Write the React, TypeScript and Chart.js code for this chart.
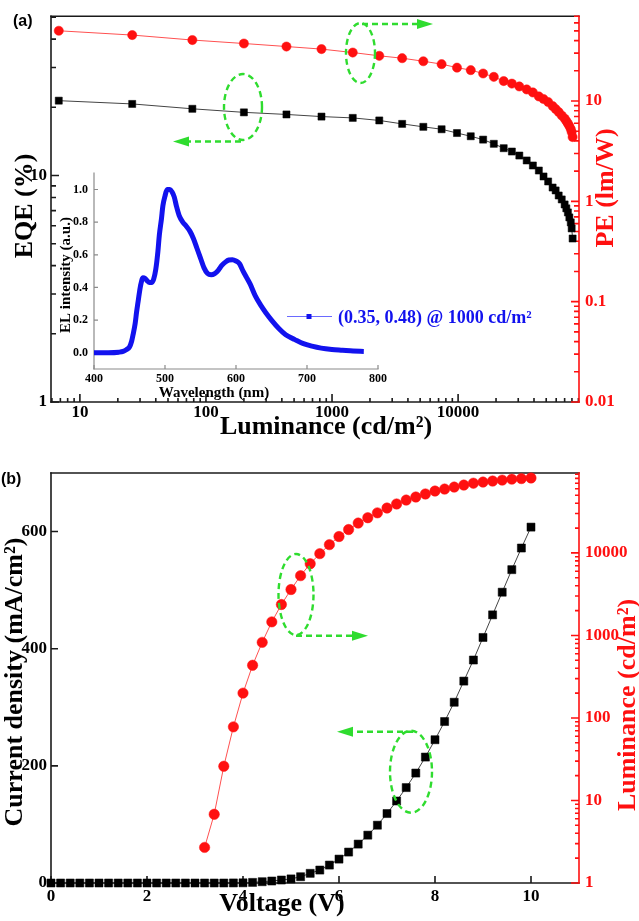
import React, { useEffect, useRef } from 'react';
import { Chart, registerables } from 'chart.js';
Chart.register(...registerables);

// ---------- Panel (b): J-V-L ----------
const voltage = [0, 0.2, 0.4, 0.6, 0.8, 1.0, 1.2, 1.4, 1.6, 1.8, 2.0, 2.2, 2.4, 2.6, 2.8, 3.0, 3.2, 3.4, 3.6, 3.8, 4.0, 4.2, 4.4, 4.6, 4.8, 5.0, 5.2, 5.4, 5.6, 5.8, 6.0, 6.2, 6.4, 6.6, 6.8, 7.0, 7.2, 7.4, 7.6, 7.8, 8.0, 8.2, 8.4, 8.6, 8.8, 9.0, 9.2, 9.4, 9.6, 9.8, 10.0];
const currentDensity = [0, 0, 0, 0, 0, 0, 0, 0, 0, 0, 0, 0, 0, 0, 0, 0, 0, 0, 0, 0.1, 0.3, 1.0, 2.2, 3.4, 5.1, 7.0, 10.7, 16.5, 22.1, 30.6, 40.8, 52.8, 66.4, 81.7, 98.7, 118.6, 140, 162.9, 187.7, 215, 244.6, 275.7, 308.6, 344.7, 380.7, 419.2, 457.8, 496.5, 535, 571.9, 607.6];
const lumVoltage = [3.2, 3.4, 3.6, 3.8, 4.0, 4.2, 4.4, 4.6, 4.8, 5.0, 5.2, 5.4, 5.6, 5.8, 6.0, 6.2, 6.4, 6.6, 6.8, 7.0, 7.2, 7.4, 7.6, 7.8, 8.0, 8.2, 8.4, 8.6, 8.8, 9.0, 9.2, 9.4, 9.6, 9.8, 10.0];
const luminance = [2.7, 6.8, 26, 78, 200, 435, 825, 1460, 2370, 3600, 5300, 7400, 9800, 12600, 15800, 19200, 23000, 26700, 30600, 35000, 39200, 43700, 47600, 51800, 56200, 59400, 62800, 66400, 70000, 72200, 74300, 76300, 78300, 79600, 81000];

// ---------- Panel (a): EQE / PE vs luminance (3.4 V .. 10 V) ----------
const eqe = [21.4, 20.7, 19.7, 19.0, 18.6, 18.2, 17.96, 17.5, 16.9, 16.4, 16.0, 15.4, 14.9, 14.4, 13.8, 13.2, 12.76, 12.25, 11.65, 11.07, 10.52, 9.9, 9.41, 8.85, 8.59, 8.16, 7.84, 7.45, 7.16, 6.87, 6.53, 6.21, 5.84, 5.27];
const pe = [50.1, 45.4, 40.5, 37.4, 34.9, 32.9, 30.4, 28.2, 26.7, 24.9, 23.3, 21.5, 20.3, 18.8, 17.4, 15.8, 14.9, 13.96, 13.03, 12.16, 11.1, 10.47, 9.77, 8.91, 8.32, 7.76, 7.16, 6.68, 6.31, 5.96, 5.62, 5.25, 4.9, 4.37];
const luminanceA = luminance.slice(1);

// ---------- Inset: EL spectrum ----------
const wavelength = [400, 420, 435, 441, 446, 450, 453, 455, 458, 460, 462, 464, 466, 469, 472, 475, 478, 481, 484, 487, 490, 492, 495, 497, 500, 503, 507, 510, 513, 516, 520, 525, 530, 535, 540, 545, 550, 555, 560, 565, 570, 575, 580, 585, 590, 595, 600, 605, 610, 615, 620, 627, 635, 642, 650, 660, 670, 683, 695, 707, 720, 735, 750, 765, 780];
const elIntensity = [0, 0, 0.003, 0.008, 0.02, 0.035, 0.07, 0.11, 0.18, 0.25, 0.31, 0.37, 0.42, 0.46, 0.455, 0.44, 0.43, 0.43, 0.45, 0.51, 0.62, 0.72, 0.82, 0.9, 0.96, 1.0, 1.0, 0.985, 0.955, 0.9, 0.84, 0.8, 0.775, 0.745, 0.7, 0.64, 0.58, 0.52, 0.485, 0.478, 0.485, 0.505, 0.535, 0.555, 0.568, 0.57, 0.562, 0.545, 0.5, 0.46, 0.42, 0.35, 0.29, 0.245, 0.2, 0.15, 0.11, 0.08, 0.055, 0.04, 0.028, 0.02, 0.015, 0.01, 0.008];

// ---------- Tick labels ----------
const lumTicksA = [10, 100, 1000, 10000];
const eqeTicks = [1, 10];
const peTicks = [0.01, 0.1, 1, 10];
const voltTicks = [0, 2, 4, 6, 8, 10];
const jTicks = [0, 200, 400, 600];
const lumTicksB = [1, 10, 100, 1000, 10000];
const wlTicks = [400, 500, 600, 700, 800];
const elTicks = [0, 0.2, 0.4, 0.6, 0.8, 1.0];

const SERIF = "'Liberation Serif', 'Times New Roman', serif";
const SANS = "'Liberation Sans', Arial, sans-serif";
const RED = '#ff1010';
const BLACK = '#1a1a1a';
const BLUE = '#1212ee';
const GREEN = '#2fdc2f';

const minorLog = (decades: number[]) => decades.flatMap((d) => [2, 3, 4, 5, 6, 7, 8, 9].map((m) => +(m * d).toPrecision(6)));

type Side = 'left' | 'right' | 'bottom';
interface AxisSpec { id: string; side: Side; color: string; major: number[]; minor: number[]; majorLen: number; minorLen: number; }

function axesPlugin(specs: AxisSpec[], topBorder: string | null, lw: number) {
  return {
    id: 'customAxes',
    beforeDatasetsDraw(chart: any) {
      const { ctx } = chart;
      const { left, right, top, bottom } = chart.chartArea;
      ctx.save();
      ctx.lineWidth = lw;
      ctx.lineCap = 'square';
      ctx.setLineDash([]);
      if (topBorder) {
        ctx.strokeStyle = topBorder;
        ctx.beginPath(); ctx.moveTo(left, top); ctx.lineTo(right, top); ctx.stroke();
      }
      for (const s of specs) {
        const sc = chart.scales[s.id];
        ctx.strokeStyle = s.color;
        ctx.beginPath();
        if (s.side === 'left') { ctx.moveTo(left, top); ctx.lineTo(left, bottom); }
        else if (s.side === 'right') { ctx.moveTo(right, top); ctx.lineTo(right, bottom); }
        else { ctx.moveTo(left, bottom); ctx.lineTo(right, bottom); }
        ctx.stroke();
        ctx.lineCap = 'butt';
        ctx.beginPath();
        const tick = (v: number, len: number) => {
          if (v < sc.min - 1e-12 || v > sc.max + 1e-12) return;
          const p = sc.getPixelForValue(v);
          if (s.side === 'left') { ctx.moveTo(left, p); ctx.lineTo(left + len, p); }
          else if (s.side === 'right') { ctx.moveTo(right, p); ctx.lineTo(right - len, p); }
          else { ctx.moveTo(p, bottom); ctx.lineTo(p, bottom - len); }
        };
        s.major.forEach((v) => tick(v, s.majorLen));
        s.minor.forEach((v) => tick(v, s.minorLen));
        ctx.stroke();
        ctx.lineCap = 'square';
      }
      ctx.restore();
    },
  };
}

function rotText(ctx: CanvasRenderingContext2D, text: string, x: number, y: number, font: string, color: string) {
  ctx.save();
  ctx.translate(x, y);
  ctx.rotate(-Math.PI / 2);
  ctx.font = font;
  ctx.fillStyle = color;
  ctx.textAlign = 'center';
  ctx.textBaseline = 'alphabetic';
  ctx.fillText(text, 0, 0);
  ctx.restore();
}

function hText(ctx: CanvasRenderingContext2D, text: string, x: number, y: number, font: string, color: string, align: CanvasTextAlign = 'center', base: CanvasTextBaseline = 'alphabetic') {
  ctx.save();
  ctx.font = font;
  ctx.fillStyle = color;
  ctx.textAlign = align;
  ctx.textBaseline = base;
  ctx.fillText(text, x, y);
  ctx.restore();
}

function greenLoop(ctx: CanvasRenderingContext2D, cx: number, cy: number, rx: number, ry: number) {
  ctx.save();
  ctx.strokeStyle = GREEN;
  ctx.lineWidth = 2.4;
  ctx.setLineDash([6, 4]);
  ctx.beginPath();
  ctx.ellipse(cx, cy, rx, ry, 0, 0, Math.PI * 2);
  ctx.stroke();
  ctx.restore();
}

function greenArrow(ctx: CanvasRenderingContext2D, x1: number, y: number, x2: number) {
  const dir = Math.sign(x2 - x1);
  const head = 16;
  ctx.save();
  ctx.strokeStyle = GREEN;
  ctx.fillStyle = GREEN;
  ctx.lineWidth = 2.4;
  ctx.setLineDash([6, 4]);
  ctx.beginPath();
  ctx.moveTo(x1, y);
  ctx.lineTo(x2 - dir * head, y);
  ctx.stroke();
  ctx.setLineDash([]);
  ctx.beginPath();
  ctx.moveTo(x2, y);
  ctx.lineTo(x2 - dir * head, y - 5);
  ctx.lineTo(x2 - dir * head, y + 5);
  ctx.closePath();
  ctx.fill();
  ctx.restore();
}

const tickFont = { family: SERIF, size: 17, weight: 'bold' as const };
const insetFont = { family: SERIF, size: 12, weight: 'bold' as const };
const noGrid = { display: false, drawTicks: false };
const setTicks = (vals: number[]) => (axis: any) => { axis.ticks = vals.map((v) => ({ value: v })); };
const fitW = (w: number) => (axis: any) => { axis.width = w; };
const fitH = (h: number) => (axis: any) => { axis.height = h; };

export default function App() {
  const refA = useRef<HTMLCanvasElement>(null);
  const refB = useRef<HTMLCanvasElement>(null);
  const refI = useRef<HTMLCanvasElement>(null);

  useEffect(() => {
    const common = { responsive: false, animation: false as const, devicePixelRatio: 1, events: [] as any[] };
    const noPlugins = { legend: { display: false }, tooltip: { enabled: false }, title: { display: false } };

    // ---------------- Panel (a) ----------------
    const chartA = new Chart(refA.current!, {
      type: 'line',
      data: {
        datasets: [
          {
            label: 'EQE',
            data: luminanceA.map((l, i) => ({ x: l, y: eqe[i] })),
            yAxisID: 'yL',
            borderColor: '#444',
            borderWidth: 1,
            pointStyle: 'rect',
            pointRadius: 5,
            pointBackgroundColor: '#000',
            pointBorderColor: '#000',
            pointBorderWidth: 0.5,
            clip: false as any,
          },
          {
            label: 'PE',
            data: luminanceA.map((l, i) => ({ x: l, y: pe[i] })),
            yAxisID: 'yR',
            borderColor: '#ff5050',
            borderWidth: 1,
            pointStyle: 'circle',
            pointRadius: 4.6,
            pointBackgroundColor: RED,
            pointBorderColor: RED,
            pointBorderWidth: 0.5,
            clip: false as any,
          },
        ],
      },
      options: {
        ...common,
        layout: { padding: { top: 15, left: 0, right: 0, bottom: 0 } },
        plugins: noPlugins as any,
        scales: {
          x: {
            type: 'logarithmic', position: 'bottom', min: 5.9, max: 91000,
            grid: noGrid, border: { display: false },
            ticks: { font: tickFont, color: '#000', padding: 0, autoSkip: false, maxRotation: 0, callback: (v: any) => String(v) },
            afterBuildTicks: setTicks(lumTicksA), afterFit: fitH(38),
          },
          yL: {
            type: 'logarithmic', position: 'left', min: 1, max: 50.5,
            grid: noGrid, border: { display: false },
            ticks: { font: tickFont, color: '#000', padding: 4, autoSkip: false, callback: (v: any) => String(v) },
            afterBuildTicks: setTicks(eqeTicks), afterFit: fitW(51),
          },
          yR: {
            type: 'logarithmic', position: 'right', min: 0.01, max: 70,
            grid: noGrid, border: { display: false },
            ticks: { font: tickFont, color: RED, padding: 6, autoSkip: false, callback: (v: any) => String(v) },
            afterBuildTicks: setTicks(peTicks), afterFit: fitW(60),
          },
        } as any,
      },
      plugins: [
        axesPlugin([
          { id: 'x', side: 'bottom', color: BLACK, major: lumTicksA, minor: minorLog([1, 10, 100, 1000, 10000]), majorLen: 8, minorLen: 4 },
          { id: 'yL', side: 'left', color: BLACK, major: eqeTicks, minor: minorLog([1, 10]), majorLen: 8, minorLen: 5 },
          { id: 'yR', side: 'right', color: RED, major: peTicks, minor: minorLog([0.01, 0.1, 1, 10]), majorLen: 8, minorLen: 5 },
        ], BLACK, 1.6),
        {
          id: 'decorA',
          afterDraw(chart: any) {
            const ctx = chart.ctx as CanvasRenderingContext2D;
            hText(ctx, '(a)', 13, 26, `bold 16px ${SANS}`, '#000', 'left');
            rotText(ctx, 'EQE (%)', 32, 206, `bold 26px ${SERIF}`, '#000');
            rotText(ctx, 'PE (lm/W)', 613, 188, `bold 26px ${SERIF}`, RED);
            hText(ctx, 'Luminance (cd/m²)', 326, 434, `bold 26px ${SERIF}`, '#000');
            // inset legend
            ctx.save();
            ctx.strokeStyle = '#6a6aff';
            ctx.lineWidth = 1;
            ctx.beginPath(); ctx.moveTo(287, 316.5); ctx.lineTo(332, 316.5); ctx.stroke();
            ctx.fillStyle = BLUE;
            ctx.fillRect(306.5, 314, 5, 5);
            ctx.restore();
            hText(ctx, '(0.35, 0.48) @ 1000 cd/m²', 338, 318, `bold 18px ${SERIF}`, BLUE, 'left', 'middle');
            // green guides
            greenLoop(ctx, 243, 107, 19, 33);
            greenArrow(ctx, 241, 141.5, 173);
            greenLoop(ctx, 360.5, 53, 14.5, 30);
            greenArrow(ctx, 362, 24, 433);
          },
        },
      ],
    });

    // ---------------- Inset ----------------
    const chartI = new Chart(refI.current!, {
      type: 'line',
      data: {
        datasets: [
          {
            label: 'EL',
            data: wavelength.map((w, i) => ({ x: w, y: elIntensity[i] })),
            borderColor: BLUE,
            borderWidth: 5,
            pointRadius: 0,
            cubicInterpolationMode: 'monotone',
            clip: false as any,
          },
        ],
      },
      options: {
        ...common,
        layout: { padding: { top: 9, left: 0, right: 12, bottom: 0 } },
        plugins: noPlugins as any,
        scales: {
          x: {
            type: 'linear', position: 'bottom', min: 400, max: 800,
            grid: noGrid, border: { display: false },
            ticks: { font: insetFont, color: '#000', padding: 3, autoSkip: false, maxRotation: 0, callback: (v: any) => String(v) },
            afterBuildTicks: setTicks(wlTicks), afterFit: fitH(35),
          },
          y: {
            type: 'linear', position: 'left', min: -0.1, max: 1.1,
            grid: noGrid, border: { display: false },
            ticks: { font: insetFont, color: '#000', padding: 6, autoSkip: false, callback: (v: any) => Number(v).toFixed(1) },
            afterBuildTicks: setTicks(elTicks), afterFit: fitW(39),
          },
        } as any,
      },
      plugins: [
        axesPlugin([
          { id: 'x', side: 'bottom', color: '#8a8a8a', major: wlTicks, minor: [], majorLen: 4, minorLen: 2 },
          { id: 'y', side: 'left', color: '#8a8a8a', major: elTicks, minor: [], majorLen: 4, minorLen: 2 },
        ], null, 1.2),
        {
          id: 'decorI',
          afterDraw(chart: any) {
            const ctx = chart.ctx as CanvasRenderingContext2D;
            rotText(ctx, 'EL intensity (a.u.)', 15, 115, `bold 15px ${SERIF}`, '#000');
            hText(ctx, 'Wavelength (nm)', 159, 233, `bold 15px ${SERIF}`, '#000', 'center', 'middle');
          },
        },
      ],
    });

    // ---------------- Panel (b) ----------------
    const chartB = new Chart(refB.current!, {
      type: 'line',
      data: {
        datasets: [
          {
            label: 'J',
            data: voltage.map((v, i) => ({ x: v, y: currentDensity[i] })),
            yAxisID: 'yL',
            borderColor: '#444',
            borderWidth: 1,
            pointStyle: 'rect',
            pointRadius: 5.7,
            pointBackgroundColor: '#000',
            pointBorderColor: '#000',
            pointBorderWidth: 0.5,
            clip: false as any,
          },
          {
            label: 'L',
            data: lumVoltage.map((v, i) => ({ x: v, y: luminance[i] })),
            yAxisID: 'yR',
            borderColor: '#ff5050',
            borderWidth: 1,
            pointStyle: 'circle',
            pointRadius: 5.2,
            pointBackgroundColor: RED,
            pointBorderColor: RED,
            pointBorderWidth: 0.5,
            clip: false as any,
          },
        ],
      },
      options: {
        ...common,
        layout: { padding: { top: 33, left: 0, right: 0, bottom: 0 } },
        plugins: noPlugins as any,
        scales: {
          x: {
            type: 'linear', position: 'bottom', min: 0, max: 11,
            grid: noGrid, border: { display: false },
            ticks: { font: tickFont, color: '#000', padding: 3, autoSkip: false, maxRotation: 0, callback: (v: any) => String(v) },
            afterBuildTicks: setTicks(voltTicks), afterFit: fitH(38),
          },
          yL: {
            type: 'linear', position: 'left', min: 0, max: 700,
            grid: noGrid, border: { display: false },
            ticks: { font: tickFont, color: '#000', padding: 4, autoSkip: false, callback: (v: any) => String(v) },
            afterBuildTicks: setTicks(jTicks), afterFit: fitW(51),
          },
          yR: {
            type: 'logarithmic', position: 'right', min: 1, max: 93000,
            grid: noGrid, border: { display: false },
            ticks: { font: tickFont, color: RED, padding: 6, autoSkip: false, callback: (v: any) => String(v) },
            afterBuildTicks: setTicks(lumTicksB), afterFit: fitW(60),
          },
        } as any,
      },
      plugins: [
        axesPlugin([
          { id: 'x', side: 'bottom', color: BLACK, major: voltTicks, minor: [], majorLen: 7, minorLen: 4 },
          { id: 'yL', side: 'left', color: BLACK, major: jTicks, minor: [], majorLen: 7, minorLen: 4 },
          { id: 'yR', side: 'right', color: RED, major: lumTicksB, minor: minorLog([1, 10, 100, 1000, 10000]), majorLen: 8, minorLen: 4 },
        ], BLACK, 1.6),
        {
          id: 'decorB',
          afterDraw(chart: any) {
            const ctx = chart.ctx as CanvasRenderingContext2D;
            hText(ctx, '(b)', 1, 44, `bold 16px ${SANS}`, '#000', 'left');
            rotText(ctx, 'Current density (mA/cm²)', 22, 242, `bold 26px ${SERIF}`, '#000');
            rotText(ctx, 'Luminance (cd/m²)', 635, 265, `bold 26px ${SERIF}`, RED);
            hText(ctx, 'Voltage (V)', 282, 471, `bold 26px ${SERIF}`, '#000');
            greenLoop(ctx, 296, 154.5, 17.5, 40.5);
            greenArrow(ctx, 296, 195.7, 368);
            greenLoop(ctx, 411, 331.7, 21, 41);
            greenArrow(ctx, 413, 291.7, 337);
          },
        },
      ],
    });

    return () => { chartA.destroy(); chartI.destroy(); chartB.destroy(); };
  }, []);

  return (
    <div style={{ position: 'absolute', left: 0, top: 0, width: 639, height: 921, background: '#fff', overflow: 'hidden' }}>
      <canvas ref={refA} width={639} height={440} style={{ position: 'absolute', left: 0, top: 0, width: 639, height: 440 }} />
      <canvas ref={refI} width={335} height={244} style={{ position: 'absolute', left: 55, top: 160, width: 335, height: 244 }} />
      <canvas ref={refB} width={639} height={481} style={{ position: 'absolute', left: 0, top: 440, width: 639, height: 481 }} />
    </div>
  );
}
